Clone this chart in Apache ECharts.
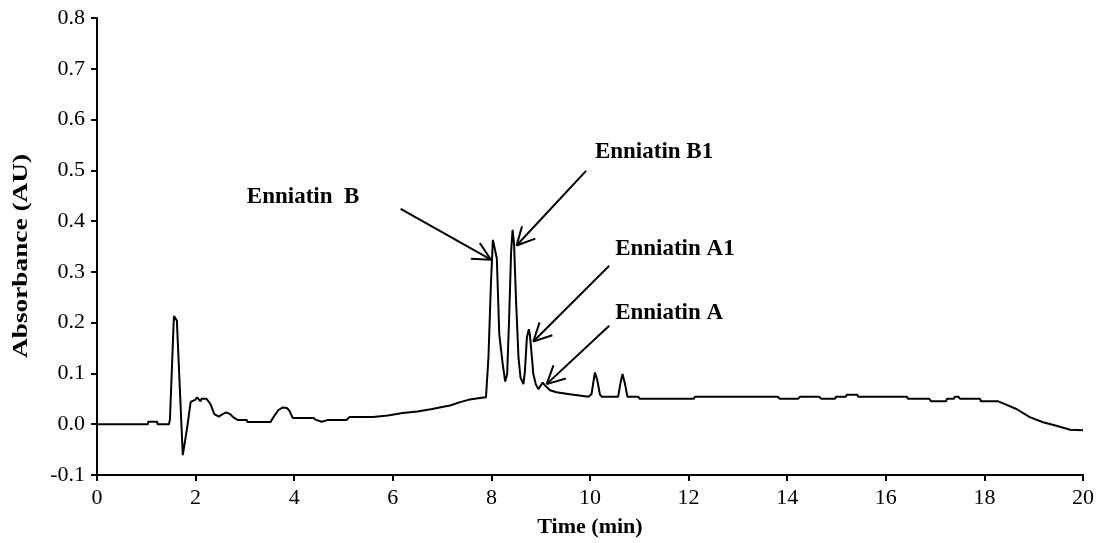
<!DOCTYPE html>
<html><head><meta charset="utf-8">
<script src="https://cdn.jsdelivr.net/npm/echarts@6/dist/echarts.min.js"></script>
<style>html,body{margin:0;padding:0;background:#fff}#c{width:1100px;height:543px}</style>
</head><body><div id="c"></div>
<script>
// Chromatogram trace: retention time (min) and absorbance (AU)
const timeMin = [0,1.03,1.04,1.22,1.23,1.46,1.48,1.56,1.62,1.74,1.83,1.87,1.90,1.99,2.03,2.10,2.12,2.22,2.30,2.38,2.47,2.53,2.62,2.70,2.76,2.85,3.04,3.05,3.52,3.58,3.68,3.77,3.85,3.90,3.97,4.39,4.44,4.56,4.69,5.06,5.12,5.60,5.62,5.90,5.92,6.20,6.50,6.80,7.00,7.16,7.35,7.53,7.80,7.89,7.94,7.99,8.03,8.07,8.11,8.16,8.23,8.28,8.32,8.36,8.40,8.43,8.46,8.50,8.55,8.59,8.65,8.68,8.72,8.76,8.78,8.81,8.85,8.90,8.95,9.00,9.04,9.09,9.19,9.32,9.59,9.97,10.03,10.10,10.15,10.20,10.24,10.57,10.62,10.66,10.71,10.76,10.98,11.01,12.10,12.13,13.81,13.85,14.22,14.26,14.65,14.69,14.97,14.99,15.19,15.21,15.42,15.44,16.43,16.45,16.88,16.92,17.22,17.24,17.38,17.40,17.47,17.51,17.91,17.93,18.28,18.38,18.65,18.92,19.19,19.46,19.74,20];
const absorbance = [0,0,0.005,0.005,0,0,0.01,0.213,0.204,-0.061,-0.006,0.023,0.044,0.048,0.053,0.045,0.05,0.05,0.04,0.02,0.015,0.019,0.0235,0.02,0.014,0.0085,0.0085,0.0045,0.0045,0.014,0.028,0.033,0.032,0.027,0.0125,0.0125,0.0085,0.005,0.0085,0.0085,0.014,0.014,0.017,0.017,0.02,0.022,0.025,0.03,0.034,0.037,0.043,0.048,0.052,0.053,0.131,0.275,0.363,0.363,0.327,0.177,0.118,0.084,0.099,0.21,0.34,0.383,0.354,0.243,0.131,0.092,0.079,0.105,0.171,0.187,0.177,0.145,0.099,0.079,0.069,0.076,0.082,0.076,0.067,0.063,0.059,0.054,0.059,0.102,0.086,0.059,0.054,0.054,0.082,0.099,0.079,0.054,0.054,0.05,0.05,0.054,0.054,0.05,0.05,0.054,0.054,0.05,0.05,0.054,0.054,0.058,0.058,0.054,0.054,0.05,0.05,0.045,0.045,0.05,0.05,0.054,0.054,0.05,0.05,0.045,0.045,0.041,0.03,0.014,0.004,-0.003,-0.011,-0.012];

// Peak annotations (data coordinates)
const annoLabels = ['Enniatin  B', 'Enniatin B1', 'Enniatin A1', 'Enniatin A'];
const annoTextPos = [[3.04, 0.447], [10.10, 0.535], [10.51, 0.345], [10.51, 0.218]];
const annoArrowFrom = [[6.16, 0.424], [9.92, 0.499], [10.39, 0.312], [10.39, 0.194]];
const annoArrowTo = [[7.99, 0.324], [8.51, 0.352], [8.85, 0.163], [9.12, 0.079]];

const xTicks = [0,2,4,6,8,10,12,14,16,18,20];
const yTicks = [-0.1,0,0.1,0.2,0.3,0.4,0.5,0.6,0.7,0.8];
const yTitle = 'Absorbance (AU)';
const xTitle = 'Time (min)';

const FONT = '"Liberation Serif", "Times New Roman", serif';
const chart = echarts.init(document.getElementById('c'), null, {renderer: 'canvas'});
const points = timeMin.map((t, i) => [t, absorbance[i]]);

chart.setOption({
  animation: false,
  backgroundColor: '#fff',
  grid: {left: 97, right: 17, top: 18, bottom: 65, containLabel: false},
  xAxis: {
    type: 'value', min: xTicks[0], max: xTicks[xTicks.length - 1], interval: 2,
    name: xTitle, nameLocation: 'middle', nameGap: 41,
    nameTextStyle: {fontFamily: FONT, fontWeight: 'bold', fontSize: 22, color: '#000'},
    axisLine: {onZero: false, lineStyle: {color: '#000', width: 2}},
    axisTick: {show: true, length: 6, lineStyle: {color: '#000', width: 2}},
    axisLabel: {fontFamily: FONT, fontSize: 22, color: '#000', margin: 12},
    splitLine: {show: false}
  },
  yAxis: {
    type: 'value', min: yTicks[0], max: yTicks[yTicks.length - 1], interval: 0.1,
    axisLine: {show: true, lineStyle: {color: '#000', width: 2}},
    axisTick: {show: true, length: 6, lineStyle: {color: '#000', width: 2}},
    axisLabel: {fontFamily: FONT, fontSize: 22, color: '#000', margin: 12,
      formatter: v => v.toFixed(1)},
    splitLine: {show: false}
  },
  series: [{
    type: 'line', data: points, showSymbol: false, smooth: false,
    lineStyle: {color: '#000', width: 2}, z: 3
  }]
});

function arrowHead(tip, from, len, ang) {
  const dx = from[0] - tip[0], dy = from[1] - tip[1];
  const base = Math.atan2(dy, dx);
  return [base - ang, base + ang].map(a => [tip[0] + len * Math.cos(a), tip[1] + len * Math.sin(a)]);
}

const g = [];
// vertical axis title (widened spacing like the original)
g.push({type: 'text', x: 22, y: 256, rotation: Math.PI / 2, scaleX: 1.3, z: 10,
  style: {text: yTitle, font: 'bold 21px ' + FONT, fill: '#000', align: 'center', verticalAlign: 'middle'}});
annoLabels.forEach((lab, i) => {
  const tp = chart.convertToPixel({gridIndex: 0}, annoTextPos[i]);
  const a = chart.convertToPixel({gridIndex: 0}, annoArrowFrom[i]);
  const b = chart.convertToPixel({gridIndex: 0}, annoArrowTo[i]);
  g.push({type: 'text', x: tp[0], y: tp[1], z: 10,
    style: {text: lab, font: 'bold 23px ' + FONT, fill: '#000', verticalAlign: 'middle', align: 'left'}});
  g.push({type: 'line', z: 10, shape: {x1: a[0], y1: a[1], x2: b[0], y2: b[1]}, style: {stroke: '#000', lineWidth: 2}});
  const h = arrowHead(b, a, 20, 0.47);
  h.forEach(p => g.push({type: 'line', z: 10, shape: {x1: b[0], y1: b[1], x2: p[0], y2: p[1]}, style: {stroke: '#000', lineWidth: 2}}));
});
chart.setOption({graphic: g});
</script></body></html>
